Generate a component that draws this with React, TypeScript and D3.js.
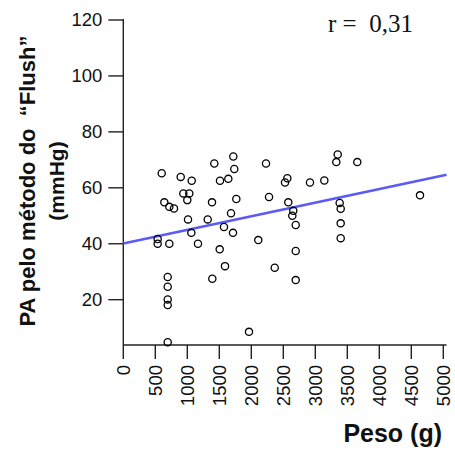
import React from "react";
import * as d3 from "d3";

const pesoG: number[] = [
  600, 897, 1069, 1422, 1719, 1734, 1511, 1641, 2230, 2527, 2563,
  641, 719, 792, 938, 1031, 1000, 1386, 1766, 2277,
  1011, 1319, 1683, 1573, 1063, 1714, 537, 537, 719, 1167, 2109,
  1506, 1589, 2366, 1391, 694, 694, 694, 694, 694, 1964,
  2578, 2656, 2641, 2694, 2694, 2694, 2917, 3141, 3350, 3328, 3656,
  3381, 3397, 3397, 3397, 4636,
];
const paFlush: number[] = [
  65.2, 63.9, 62.5, 68.7, 71.2, 66.7, 62.5, 63.2, 68.7, 61.9, 63.4,
  54.8, 53.2, 52.6, 58, 58, 55.6, 54.8, 56, 56.7,
  48.7, 48.7, 50.9, 46, 43.9, 43.9, 41.7, 40, 40, 40, 41.3,
  38, 32, 31.4, 27.5, 28.1, 24.6, 20.1, 18.1, 4.8, 8.5,
  54.8, 51.8, 50, 46.7, 37.4, 27, 61.9, 62.6, 71.9, 69.2, 69.2,
  54.6, 52.5, 47.3, 42, 57.3,
];
const xTicks: number[] = [0, 500, 1000, 1500, 2000, 2500, 3000, 3500, 4000, 4500, 5000];
const yTicks: number[] = [20, 40, 60, 80, 100, 120];
const fitIntercept = 40.1;
const fitSlope = 0.00486;
const fitRange: number[] = [0, 5050];
const yLabelLine1 = "PA pelo método do  \u201CFlush\u201D";
const yLabelLine2 = "(mmHg)";
const xLabel = "Peso (g)";
const rText = "r =  0,31";

const W = 455;
const H = 452;
const sans = "'Liberation Sans', Arial, Helvetica, sans-serif";

export default function App() {
  const x = d3.scaleLinear().domain([0, 5000]).range([123.3, 443.3]);
  const y = d3.scaleLinear().domain([3.8, 120]).range([345, 20]);
  const axisColor = "#222";
  const line = d3
    .line<number>()
    .x((d) => x(d))
    .y((d) => y(fitIntercept + fitSlope * d));

  return (
    <svg
      width={W}
      height={H}
      style={{ position: "absolute", left: 0, top: 0, background: "#fff" }}
    >
      {/* y axis */}
      <line x1={x(0)} x2={x(0)} y1={y(120) - 1} y2={y(3.8)} stroke={axisColor} strokeWidth={1.4} />
      {yTicks.map((t) => (
        <g key={"yt" + t}>
          <line x1={x(0) - 15} x2={x(0)} y1={y(t)} y2={y(t)} stroke={axisColor} strokeWidth={1.4} />
          <text
            x={x(0) - 21}
            y={y(t)}
            dy="0.35em"
            textAnchor="end"
            fontFamily={sans}
            fontSize={18.5}
            fill="#111"
          >
            {t}
          </text>
        </g>
      ))}
      {/* x axis */}
      <line x1={x(0)} x2={x(5050)} y1={y(3.8)} y2={y(3.8)} stroke={axisColor} strokeWidth={1.4} />
      {xTicks.map((t) => (
        <g key={"xt" + t}>
          <line x1={x(t)} x2={x(t)} y1={y(3.8)} y2={y(3.8) + 14} stroke={axisColor} strokeWidth={1.4} />
          <text
            transform={`translate(${x(t)},${y(3.8) + 20}) rotate(-90)`}
            dy="0.35em"
            textAnchor="end"
            fontFamily={sans}
            fontSize={18.5}
            fill="#111"
          >
            {t}
          </text>
        </g>
      ))}
      {/* regression line */}
      <path d={line(fitRange) || ""} stroke="#5a5af8" strokeWidth={2.6} fill="none" />
      {/* points */}
      {pesoG.map((p, i) => (
        <circle
          key={"pt" + i}
          cx={x(p)}
          cy={y(paFlush[i])}
          r={3.6}
          fill="none"
          stroke="#000"
          strokeWidth={1.3}
        />
      ))}
      {/* labels */}
      <text
        transform="translate(27,181) rotate(-90)"
        dy="0.35em"
        textAnchor="middle"
        fontFamily={sans}
        fontWeight="bold"
        fontSize={22}
        fill="#111"
        style={{ whiteSpace: "pre" }}
      >
        {yLabelLine1}
      </text>
      <text
        transform="translate(57,181) rotate(-90)"
        dy="0.35em"
        textAnchor="middle"
        fontFamily={sans}
        fontWeight="bold"
        fontSize={21}
        fill="#111"
      >
        {yLabelLine2}
      </text>
      <text
        x={442}
        y={442}
        textAnchor="end"
        fontFamily={sans}
        fontWeight="bold"
        fontSize={25}
        fill="#111"
      >
        {xLabel}
      </text>
      <text
        x={328}
        y={31.5}
        fontFamily="'Liberation Serif', 'Times New Roman', serif"
        fontSize={25}
        fill="#111"
        style={{ whiteSpace: "pre" }}
      >
        {rText}
      </text>
    </svg>
  );
}
